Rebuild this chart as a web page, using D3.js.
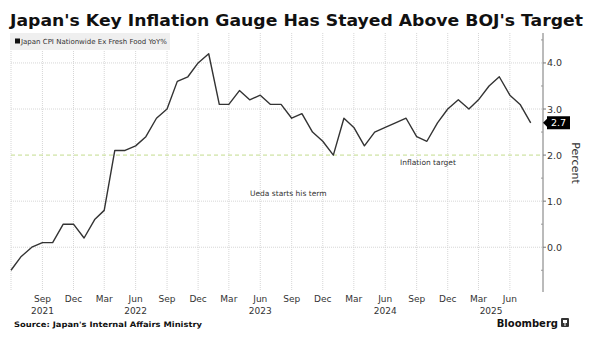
<!DOCTYPE html>
<html>
<head>
<meta charset="utf-8">
<script src="https://cdn.jsdelivr.net/npm/d3@7"></script>
<style>
  body { margin: 0; background: #fff; }
  text { font-family: "DejaVu Sans", sans-serif; }
</style>
</head>
<body>
<div id="chart"></div>
<script>
// monthly YoY %, Jun 2021 .. Aug 2025
const startMonth = [2021, 5];
const cpiValues = [
  -0.5, -0.2, 0.0, 0.1, 0.1, 0.5, 0.5,
  0.2, 0.6, 0.8, 2.1, 2.1, 2.2, 2.4, 2.8, 3.0, 3.6, 3.7, 4.0,
  4.2, 3.1, 3.1, 3.4, 3.2, 3.3, 3.1, 3.1, 2.8, 2.9, 2.5, 2.3,
  2.0, 2.8, 2.6, 2.2, 2.5, 2.6, 2.7, 2.8, 2.4, 2.3, 2.7, 3.0,
  3.2, 3.0, 3.2, 3.5, 3.7, 3.3, 3.1, 2.7
];
const yTicks = [0, 1, 2, 3, 4];
const yMinor = [-0.5, 0.5, 1.5, 2.5, 3.5, 4.5];
const targetValue = 2.0;
const uedaLabel = "Ueda starts his term";
// year labels: [year, month index it sits under]
const yearLabels = [[2021, 8], [2022, 5], [2023, 5], [2024, 5], [2025, 3.2]];

const data = cpiValues.map((v, i) => ({
  date: new Date(startMonth[0], startMonth[1] + i, 1),
  value: v
}));

const width = 594, height = 345;
const svg = d3.select("#chart").append("svg")
  .attr("width", width).attr("height", height);

const x = d3.scaleTime()
  .domain([new Date(2021, 5, 1), new Date(2025, 8, 6)])
  .range([11, 543]);
const y = d3.scaleLinear().domain([-0.95, 4.65]).range([291, 33]);

// title
svg.append("text")
  .attr("x", 10).attr("y", 26)
  .attr("font-size", 15).attr("font-weight", "bold").attr("fill", "#111")
  .attr("textLength", 573).attr("lengthAdjust", "spacingAndGlyphs")
  .text("Japan's Key Inflation Gauge Has Stayed Above BOJ's Target");

// grid
const xTicks = d3.timeMonth.range(new Date(2021, 8, 1), new Date(2025, 8, 1), 3);
const grid = svg.append("g");
grid.selectAll("line.v")
  .data([new Date(2021, 5, 1)].concat(xTicks))
  .join("line")
  .attr("x1", d => x(d)).attr("x2", d => x(d))
  .attr("y1", 33).attr("y2", 291)
  .attr("stroke", "#d6d6d6").attr("stroke-dasharray", "1,1");
grid.selectAll("line.h")
  .data(yTicks.filter(d => d !== targetValue))
  .join("line")
  .attr("x1", 11).attr("x2", 543)
  .attr("y1", d => y(d)).attr("y2", d => y(d))
  .attr("stroke", "#d6d6d6").attr("stroke-dasharray", "1,1");

// target line
svg.append("line")
  .attr("x1", 11).attr("x2", 543)
  .attr("y1", y(targetValue)).attr("y2", y(targetValue))
  .attr("stroke", "#c3dc8e").attr("stroke-dasharray", "4,3");
svg.append("text")
  .attr("x", 428).attr("y", y(targetValue) + 10)
  .attr("text-anchor", "middle").attr("font-size", 7.5).attr("fill", "#333")
  .text("Inflation target");

svg.append("text")
  .attr("x", 250).attr("y", 196)
  .attr("font-size", 7.5).attr("fill", "#333")
  .text(uedaLabel);

// legend
svg.append("rect")
  .attr("x", 10).attr("y", 33).attr("width", 160).attr("height", 17)
  .attr("fill", "#efefef");
svg.append("rect")
  .attr("x", 15).attr("y", 38.5).attr("width", 5).attr("height", 5)
  .attr("fill", "#111");
svg.append("text")
  .attr("x", 21).attr("y", 44)
  .attr("font-size", 7).attr("fill", "#333")
  .attr("textLength", 146).attr("lengthAdjust", "spacingAndGlyphs")
  .text("Japan CPI Nationwide Ex Fresh Food YoY%");

// line
svg.append("path")
  .datum(data)
  .attr("fill", "none")
  .attr("stroke", "#333")
  .attr("stroke-width", 1.4)
  .attr("stroke-linejoin", "round")
  .attr("d", d3.line().x(d => x(d.date)).y(d => y(d.value)));

// right axis
const yAxis = svg.append("g");
yAxis.append("line")
  .attr("x1", 543).attr("x2", 543).attr("y1", 33).attr("y2", 292)
  .attr("stroke", "#777");
yAxis.selectAll("line.major").data(yTicks).join("line")
  .attr("x1", 543).attr("x2", 546)
  .attr("y1", d => y(d)).attr("y2", d => y(d)).attr("stroke", "#777");
yAxis.selectAll("line.minor").data(yMinor).join("line")
  .attr("x1", 541).attr("x2", 543)
  .attr("y1", d => y(d)).attr("y2", d => y(d)).attr("stroke", "#999");
yAxis.selectAll("text").data(yTicks).join("text")
  .attr("x", 547).attr("y", d => y(d) + 3.5)
  .attr("font-size", 9.5).attr("fill", "#333")
  .text(d3.format(".1f"));

// last value label
const last = data[data.length - 1];
const ly = y(last.value);
svg.append("path")
  .attr("d", `M543,${ly} L547,${ly - 4} L547,${ly - 6.5} L570,${ly - 6.5} L570,${ly + 6.5} L547,${ly + 6.5} L547,${ly + 4} Z`)
  .attr("fill", "#000");
svg.append("text")
  .attr("x", 558.5).attr("y", ly + 3.5)
  .attr("text-anchor", "middle").attr("font-size", 9.5).attr("fill", "#fff")
  .text(d3.format(".1f")(last.value));

svg.append("text")
  .attr("transform", "translate(572,163) rotate(90)")
  .attr("text-anchor", "middle").attr("font-size", 11).attr("fill", "#333")
  .text("Percent");

// x labels
const fmtMonth = d3.timeFormat("%b");
const xl = svg.append("g");
xl.selectAll("text.m").data(xTicks).join("text")
  .attr("x", d => x(d)).attr("y", 302)
  .attr("text-anchor", "middle").attr("font-size", 9).attr("fill", "#333")
  .text(fmtMonth);
xl.selectAll("text.yr").data(yearLabels).join("text")
  .attr("x", d => x(new Date(d[0], Math.floor(d[1]), 1 + Math.round((d[1] % 1) * 30))))
  .attr("y", 314)
  .attr("text-anchor", "middle").attr("font-size", 9).attr("fill", "#333")
  .text(d => d[0]);

// footer
svg.append("text")
  .attr("x", 14).attr("y", 327)
  .attr("font-size", 7.5).attr("font-weight", "bold").attr("fill", "#111")
  .attr("textLength", 188).attr("lengthAdjust", "spacingAndGlyphs")
  .text("Source: Japan's Internal Affairs Ministry");
svg.append("text")
  .attr("x", 558).attr("y", 327)
  .attr("text-anchor", "end")
  .attr("font-size", 10).attr("font-weight", "bold").attr("fill", "#111")
  .text("Bloomberg");
svg.append("rect")
  .attr("x", 561).attr("y", 318).attr("width", 8).attr("height", 9)
  .attr("rx", 1).attr("fill", "#333");
svg.append("path")
  .attr("d", "M563,320 L567,320 L567,323 L565.5,323 L565.5,326 L564.5,326 L564.5,323 L563,323 Z")
  .attr("fill", "#fff");
</script>
</body>
</html>
